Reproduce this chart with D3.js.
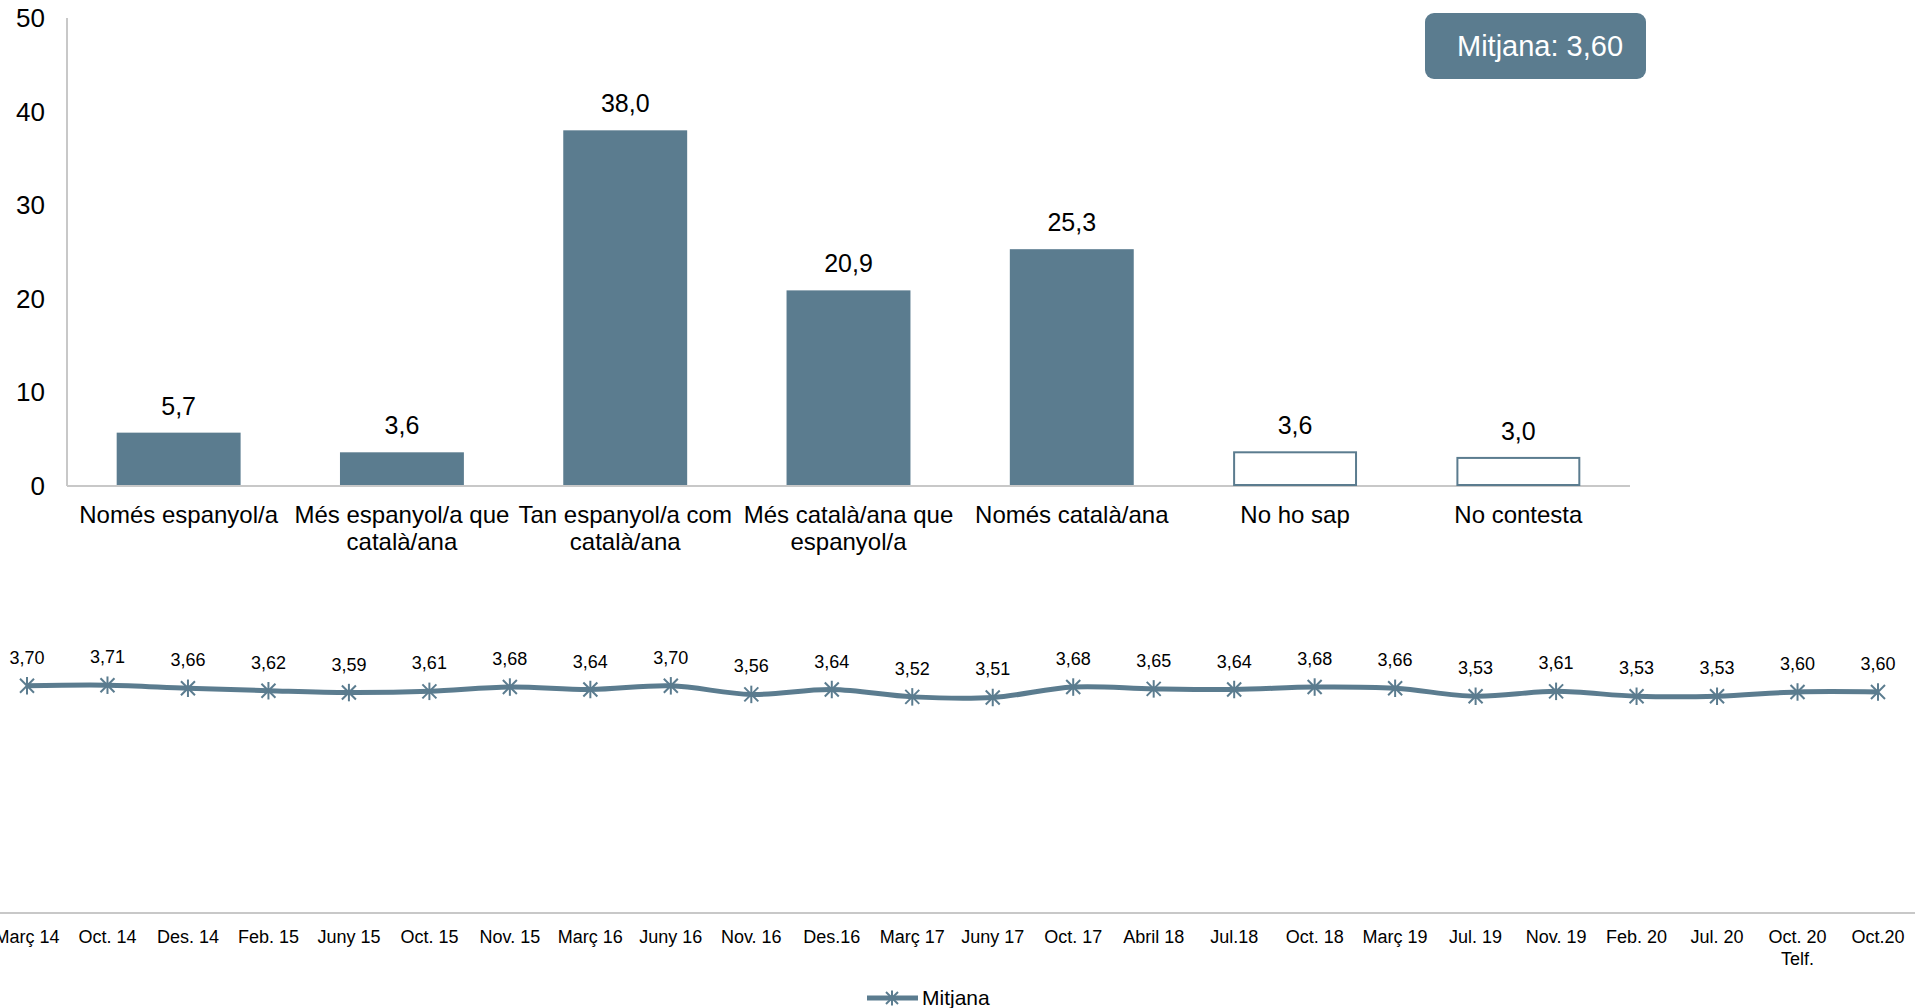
<!DOCTYPE html>
<html>
<head>
<meta charset="utf-8">
<script src="https://cdn.jsdelivr.net/npm/d3@7"></script>
<style>
  html, body { margin: 0; padding: 0; background: #fff; }
  svg { display: block; }
  text { font-family: "Liberation Sans", Arial, sans-serif; fill: #000; }
</style>
</head>
<body>
<svg id="chart" width="1915" height="1008"></svg>
<script>
// ---- Data ----
const barCategories = [
  ["Només espanyol/a"],
  ["Més espanyol/a que", "català/ana"],
  ["Tan espanyol/a com", "català/ana"],
  ["Més català/ana que", "espanyol/a"],
  ["Només català/ana"],
  ["No ho sap"],
  ["No contesta"]
];
const barValues = [5.7, 3.6, 38.0, 20.9, 25.3, 3.6, 3.0];
const barHollow = [false, false, false, false, false, true, true];
const barTicks = [0, 10, 20, 30, 40, 50];

const lineLabels = [
  ["Març 14"], ["Oct. 14"], ["Des. 14"], ["Feb. 15"], ["Juny 15"], ["Oct. 15"],
  ["Nov. 15"], ["Març 16"], ["Juny 16"], ["Nov. 16"], ["Des.16"], ["Març 17"],
  ["Juny 17"], ["Oct. 17"], ["Abril 18"], ["Jul.18"], ["Oct. 18"], ["Març 19"],
  ["Jul. 19"], ["Nov. 19"], ["Feb. 20"], ["Jul. 20"], ["Oct. 20", "Telf."], ["Oct.20"]
];
const lineValues = [3.70, 3.71, 3.66, 3.62, 3.59, 3.61, 3.68, 3.64, 3.70, 3.56, 3.64, 3.52,
                    3.51, 3.68, 3.65, 3.64, 3.68, 3.66, 3.53, 3.61, 3.53, 3.53, 3.60, 3.60];
const seriesName = "Mitjana";
const badgeText = "Mitjana: 3,60";

// ---- Styles ----
const COLOR = "#5b7c8f";
const AXIS = "#c8c8c8";
const svg = d3.select("#chart");
const fmt1 = v => v.toFixed(1).replace(".", ",");
const fmt2 = v => v.toFixed(2).replace(".", ",");

// ---- Bar chart ----
const bx = d3.scaleBand().domain(d3.range(barValues.length)).range([67, 1630]).paddingInner(0.445).paddingOuter(0.2225);
const by = d3.scaleLinear().domain([0, 50]).range([486, 18]);

const gBar = svg.append("g");
gBar.selectAll("text.ytick").data(barTicks).join("text")
  .attr("class", "ytick")
  .attr("x", 45).attr("y", d => by(d) + 9)
  .attr("text-anchor", "end").attr("font-size", 26)
  .text(d => d);
gBar.append("line").attr("x1", 67).attr("x2", 67).attr("y1", by(50)).attr("y2", by(0))
  .attr("stroke", AXIS).attr("stroke-width", 2);
gBar.append("line").attr("x1", 67).attr("x2", 1630).attr("y1", by(0)).attr("y2", by(0))
  .attr("stroke", AXIS).attr("stroke-width", 2);

gBar.selectAll("rect.bar").data(barValues).join("rect")
  .attr("class", "bar")
  .attr("x", (d, i) => bx(i) + (barHollow[i] ? 1 : 0))
  .attr("width", (d, i) => bx.bandwidth() - (barHollow[i] ? 2 : 0))
  .attr("y", d => by(d))
  .attr("height", d => by(0) - by(d) - 1)
  .attr("fill", (d, i) => barHollow[i] ? "#fff" : COLOR)
  .attr("stroke", (d, i) => barHollow[i] ? COLOR : "none")
  .attr("stroke-width", 2);

gBar.selectAll("text.val").data(barValues).join("text")
  .attr("class", "val")
  .attr("x", (d, i) => bx(i) + bx.bandwidth() / 2)
  .attr("y", d => by(d) - 18)
  .attr("text-anchor", "middle").attr("font-size", 25)
  .text(d => fmt1(d));

const catG = gBar.selectAll("text.cat").data(barCategories).join("text")
  .attr("class", "cat")
  .attr("text-anchor", "middle").attr("font-size", 24);
catG.selectAll("tspan").data((d, i) => d.map(s => ({ s, i }))).join("tspan")
  .attr("x", d => bx(d.i) + bx.bandwidth() / 2)
  .attr("y", (d, j) => 523 + j * 27)
  .text(d => d.s);

// badge
svg.append("rect").attr("x", 1425).attr("y", 13).attr("width", 221).attr("height", 66)
  .attr("rx", 9).attr("fill", COLOR);
svg.append("text").attr("x", 1540).attr("y", 56).attr("text-anchor", "middle")
  .attr("font-size", 29).style("fill", "#fff").text(badgeText);

// ---- Line chart ----
const lx = d3.scalePoint().domain(d3.range(lineValues.length)).range([27, 1878]);
const ly = d3.scaleLinear().domain([0, 10]).range([913, 299]);

const gLine = svg.append("g");
gLine.append("line").attr("x1", 0).attr("x2", 1915).attr("y1", 913).attr("y2", 913)
  .attr("stroke", AXIS).attr("stroke-width", 2);

const line = d3.line().x((d, i) => lx(i)).y(d => ly(d)).curve(d3.curveCatmullRom.alpha(0.5));
gLine.append("path").datum(lineValues).attr("d", line)
  .attr("fill", "none").attr("stroke", COLOR).attr("stroke-width", 5);

function star(g, cx, cy, r) {
  const p = g.append("g").attr("transform", `translate(${cx},${cy})`)
    .attr("stroke", COLOR).attr("stroke-width", 2);
  p.append("line").attr("x1", -r).attr("y1", -r).attr("x2", r).attr("y2", r);
  p.append("line").attr("x1", -r).attr("y1", r).attr("x2", r).attr("y2", -r);
  p.append("line").attr("x1", 0).attr("y1", -r * 1.25).attr("x2", 0).attr("y2", r * 1.25);
}
lineValues.forEach((v, i) => star(gLine, lx(i), ly(v), 7));

gLine.selectAll("text.lval").data(lineValues).join("text")
  .attr("class", "lval")
  .attr("x", (d, i) => lx(i)).attr("y", d => ly(d) - 22)
  .attr("text-anchor", "middle").attr("font-size", 18)
  .text(d => fmt2(d));

const xl = gLine.selectAll("text.xl").data(lineLabels).join("text")
  .attr("class", "xl").attr("text-anchor", "middle").attr("font-size", 18);
xl.selectAll("tspan").data((d, i) => d.map(s => ({ s, i }))).join("tspan")
  .attr("x", d => lx(d.i))
  .attr("y", (d, j) => 943 + j * 22)
  .text(d => d.s);

// legend
const lg = svg.append("g");
lg.append("line").attr("x1", 867).attr("x2", 918).attr("y1", 998).attr("y2", 998)
  .attr("stroke", COLOR).attr("stroke-width", 5);
star(lg, 892, 998, 6);
lg.append("text").attr("x", 922).attr("y", 1005).attr("font-size", 21).text(seriesName);
</script>
</body>
</html>
